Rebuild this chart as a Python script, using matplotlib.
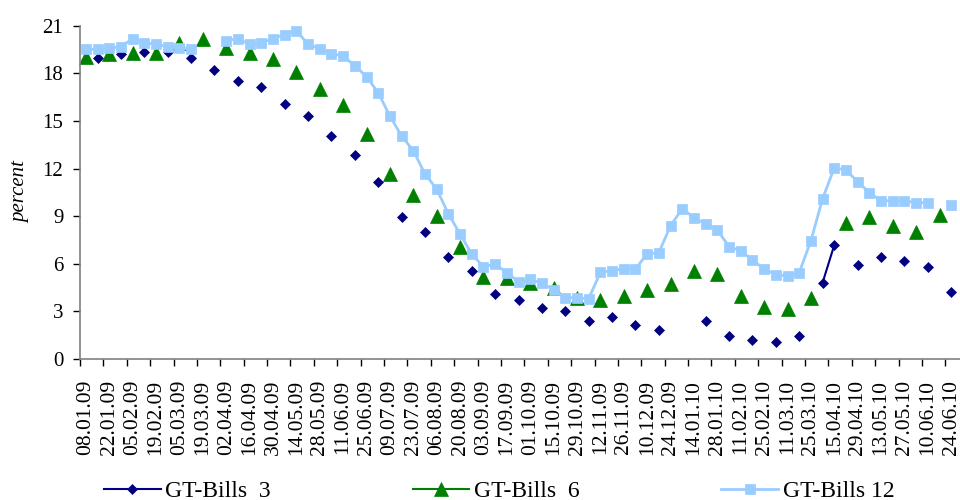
import numpy as np
import matplotlib.pyplot as plt
from matplotlib.lines import Line2D

plt.rcParams['font.family'] = ['Liberation Serif', 'DejaVu Serif']

# every second weekly auction date is shown on the axis
date_labels = ['08.01.09', '22.01.09', '05.02.09', '19.02.09', '05.03.09', '19.03.09',
               '02.04.09', '16.04.09', '30.04.09', '14.05.09', '28.05.09', '11.06.09',
               '25.06.09', '09.07.09', '23.07.09', '06.08.09', '20.08.09', '03.09.09',
               '17.09.09', '01.10.09', '15.10.09', '29.10.09', '12.11.09', '26.11.09',
               '10.12.09', '24.12.09', '14.01.10', '28.01.10', '11.02.10', '25.02.10',
               '11.03.10', '25.03.10', '15.04.10', '29.04.10', '13.05.10', '27.05.10',
               '10.06.10', '24.06.10']

# weekly yields, None where there was no auction
bills3 = [None, 18.95, None, 19.20, None, 19.32, None, 19.32, None, 18.95,
          None, 18.21, None, 17.52, None, 17.12, None, 16.05, None, 15.31,
          None, 14.07, None, 12.85, None, 11.17, None, 8.97, None, 8.02,
          None, 6.41, None, 5.55, None, 4.10, None, 3.72, None, 3.23,
          None, 3.02, None, 2.41, None, 2.65, None, 2.14, None, 1.83,
          None, None, None, 2.41, None, 1.45, None, 1.20, None, 1.07,
          None, 1.45, None, 4.81, 7.18, None, 5.92, None, 6.41, None,
          6.16, None, 5.82, None, 4.22]

bills6 = [19.01, None, 19.20, None, 19.30, None, 19.26, None, 19.91, None,
          20.14, None, 19.58, None, 19.25, None, 18.92, None, 18.08, None,
          17.01, None, 16.02, None, 14.18, None, 11.66, None, 10.32, None,
          8.99, None, 7.04, None, 5.17, None, 5.12, None, 4.81, None,
          4.47, None, 3.84, None, 3.74, None, 3.99, None, 4.37, None,
          4.73, None, 5.56, None, 5.34, None, 3.97, None, 3.26, None,
          3.15, None, 3.84, None, None, 8.59, None, 8.97, None, 8.38,
          None, 8.00, None, 9.09, None]

bills12 = [19.51, 19.51, 19.58, 19.68, 20.18, 19.93, 19.83, 19.68, 19.58, 19.55,
           None, None, 20.06, 20.18, 19.83, 19.93, 20.18, 20.44, 20.69, 19.83,
           19.55, 19.24, 19.09, 18.48, 17.79, 16.78, 15.31, 14.05, 13.13, 11.66,
           10.71, 9.14, 7.88, 6.60, 5.82, 5.97, 5.44, 4.87, 5.02, 4.77,
           4.35, 3.86, 3.86, 3.80, 5.46, 5.56, 5.69, 5.69, 6.62, 6.70,
           8.40, 9.47, 8.90, 8.51, 8.13, 7.08, 6.82, 6.24, 5.67, 5.31,
           5.25, 5.44, 7.45, 10.10, 12.05, 11.91, 11.17, 10.48, 9.97, 9.97,
           9.97, 9.85, 9.85, None, 9.70]

series_names = ['GT-Bills  3', 'GT-Bills  6', 'GT-Bills 12']


def main():
    fig = plt.figure(figsize=(9.6, 5.0), dpi=100)
    ax = fig.add_axes([80 / 960, 141 / 500, 880 / 960, 333.3 / 500])

    x = np.arange(len(bills12))
    y3 = np.array(bills3, dtype=float)
    y6 = np.array(bills6, dtype=float)
    y12 = np.array(bills12, dtype=float)

    styles = [
        dict(color='#000080', marker='D', markersize=4.6, linewidth=1.5),
        dict(color='#008000', marker='^', markersize=9.5, linewidth=1.5),
        dict(color='#99CCFF', marker='s', markersize=7.2, linewidth=2.0),
    ]
    for y, st in zip([y3, y6, y12], styles):
        ax.plot(x, y, markeredgewidth=0.5, markeredgecolor=st['color'],
                clip_on=False, **st)

    ax.set_xlim(-0.5, 74.75)
    ax.set_ylim(0, 21)
    ax.set_yticks(np.arange(0, 22, 3))
    ax.tick_params(axis='y', direction='out', length=5, width=1,
                   labelsize=15, pad=7)

    # labels sit under every second week, tick marks between them
    ax.set_xticks(np.arange(0, len(date_labels) * 2, 2))
    ax.set_xticklabels(date_labels, rotation=90)
    ax.set_xticks(np.arange(-0.5, 75, 2), minor=True)
    ax.tick_params(axis='x', which='major', length=0, labelsize=15.5, pad=15)
    ax.tick_params(axis='x', which='minor', direction='out', length=5, width=1)

    for side in ['top', 'right']:
        ax.spines[side].set_visible(False)
    for side in ['left', 'bottom']:
        ax.spines[side].set_color('#808080')
        ax.spines[side].set_linewidth(1.2)

    ax.set_ylabel('percent', fontsize=15, style='italic', labelpad=9)

    handles = [Line2D([], [], markeredgewidth=0.5, markeredgecolor=st['color'], **st)
               for st in styles]
    fig.legend(handles, series_names, loc='center', bbox_to_anchor=(0.52, 0.018),
               ncol=3, frameon=False, fontsize=17, handlelength=2.4,
               handletextpad=0.2, columnspacing=6.0)

    fig.savefig('out.png', dpi=100)


if __name__ == "__main__":
    main()
